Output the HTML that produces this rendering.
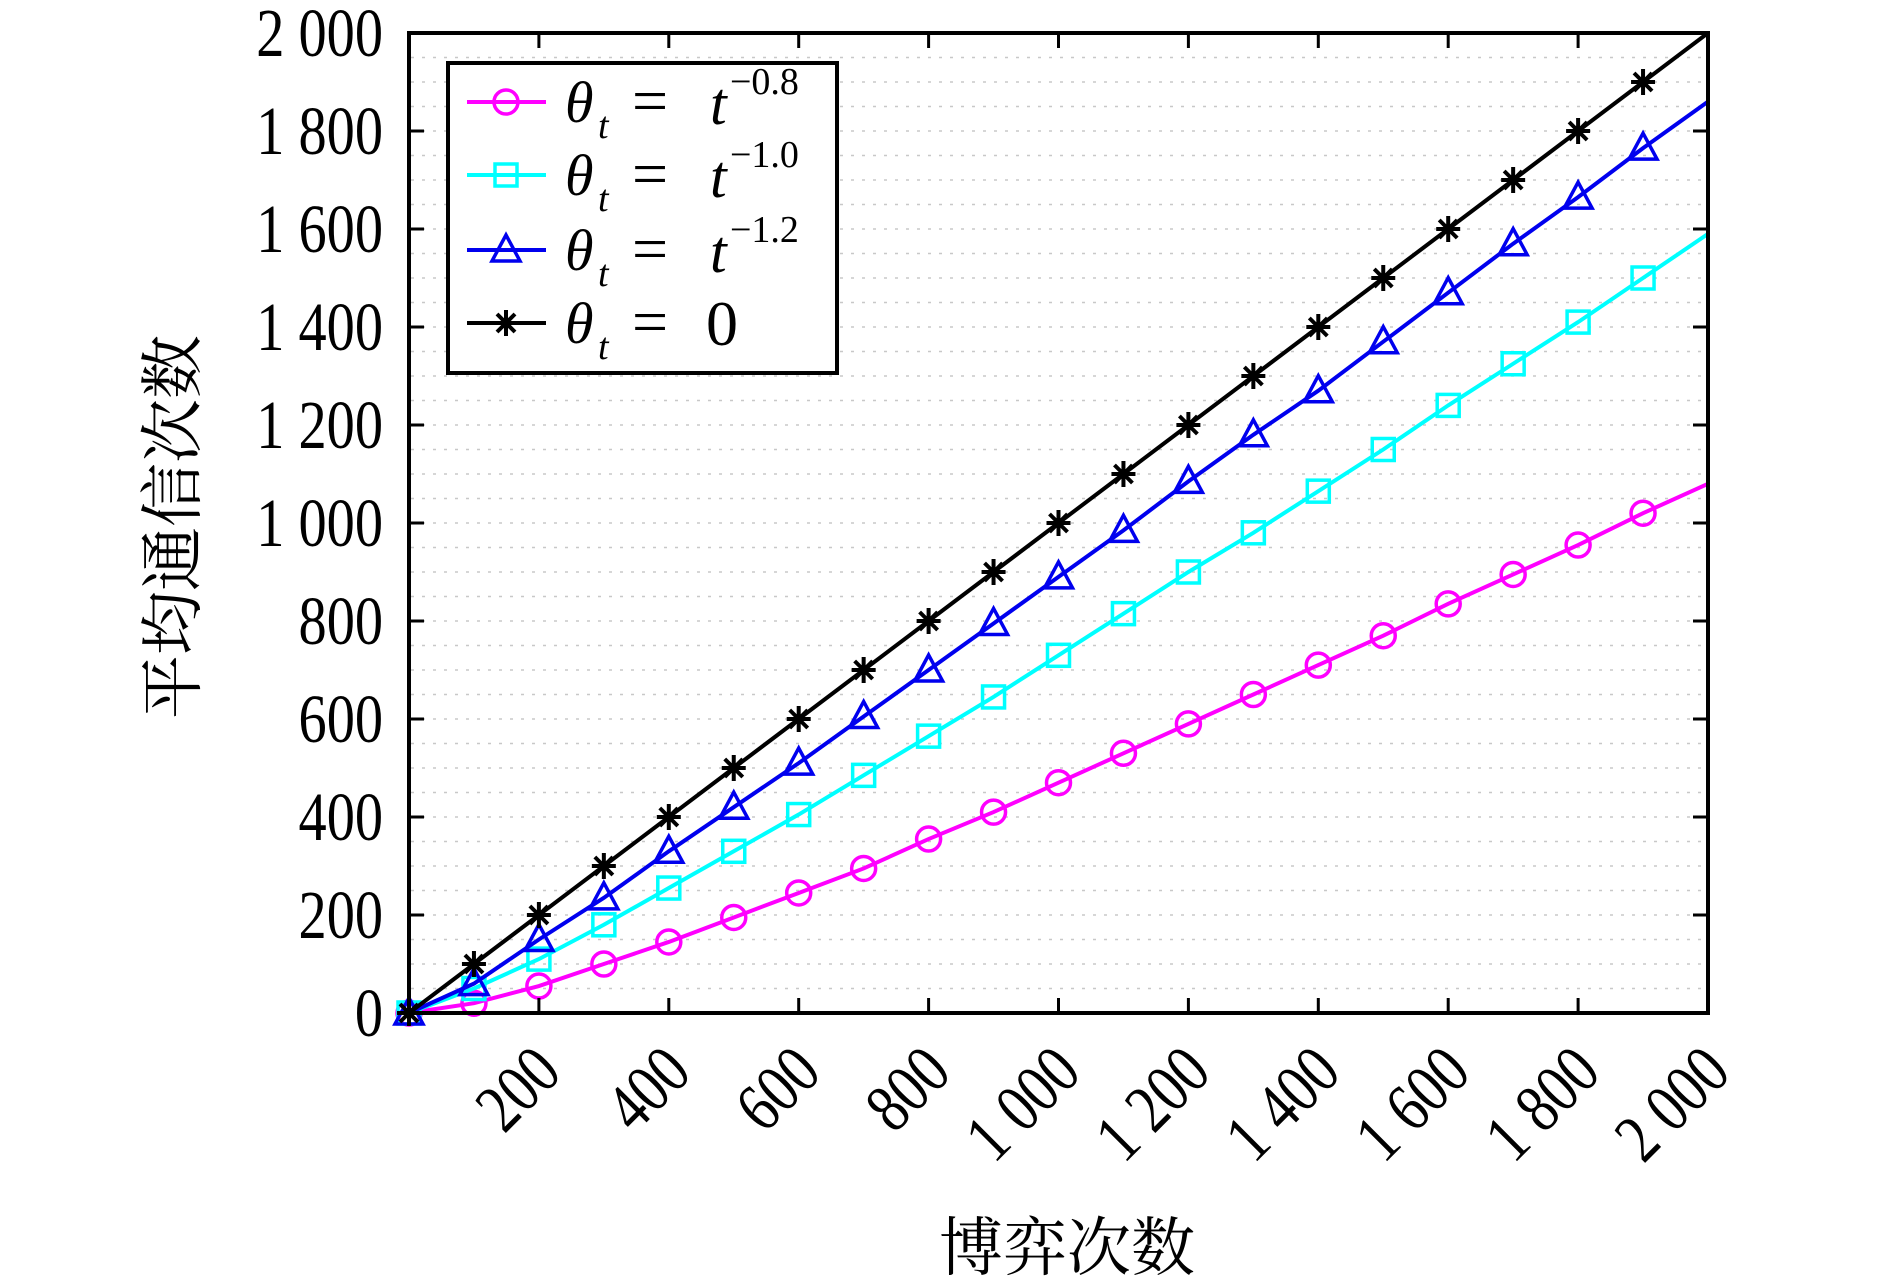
<!DOCTYPE html>
<html><head><meta charset="utf-8"><style>body{margin:0;background:#fff}svg{display:block}</style></head>
<body>
<svg id="s" width="1890" height="1281" xmlns="http://www.w3.org/2000/svg" font-family="Liberation Serif, serif">
<g id="grid" stroke="#c8c8c8" stroke-width="1.5" stroke-dasharray="3,8"></g>
<g id="series"></g>
<rect x="409" y="33" width="1299" height="980" fill="none" stroke="#000" stroke-width="4"/>
<g id="ticks" stroke="#000" stroke-width="3"></g>
<g id="labels" font-size="64" fill="#000"></g>
<rect x="448" y="63" width="389" height="310" fill="#fff" stroke="#000" stroke-width="4"/>
<g id="legend"></g>
<text x="1067" y="1270" font-size="64" text-anchor="middle" font-family="Liberation Serif, 'Noto Serif CJK SC', serif">博弈次数</text>
<text transform="translate(195,527) rotate(-90)" font-size="64" text-anchor="middle" font-family="Liberation Serif, 'Noto Serif CJK SC', serif">平均通信次数</text>
</svg>
<script>
const NS="http://www.w3.org/2000/svg";
const X=v=>409+v*0.6495, Y=v=>1013-v*0.49;
function el(p,t,a,txt){const e=document.createElementNS(NS,t);for(const k in a)e.setAttribute(k,a[k]);if(txt!==undefined)e.textContent=txt;document.getElementById(p).appendChild(e);return e;}
for(let v=50;v<2000;v+=50){el('grid','line',{x1:411,x2:1706,y1:Y(v),y2:Y(v)});}
const fmt=v=>v>=1000?Math.floor(v/1000)+" "+String(v%1000).padStart(3,'0'):String(v);
for(let v=200;v<2000;v+=200){
 el('ticks','line',{x1:409,x2:424,y1:Y(v),y2:Y(v)});
 el('ticks','line',{x1:1708,x2:1693,y1:Y(v),y2:Y(v)});
 el('ticks','line',{x1:X(v),x2:X(v),y1:1013,y2:998});
 el('ticks','line',{x1:X(v),x2:X(v),y1:33,y2:48});
}
for(let v=0;v<=2000;v+=200){
 el('labels','text',{'text-anchor':'end',transform:`translate(383,${Y(v)+23}) scale(0.88,1.08)`},fmt(v));
 if(v>0){el('labels','text',{'text-anchor':'end',transform:`translate(${X(v)+25},${1075}) rotate(-45) scale(0.88,1.08)`},fmt(v));}
}
const xs=[];for(let i=0;i<=20;i++)xs.push(i*100);
const S=[
 {c:'#ff00ff',m:'o',y:[0,20,55,100,145,195,245,295,355,410,470,530,590,650,710,770,835,895,955,1020,1080]},
 {c:'#00ffff',m:'s',y:[0,50,110,180,255,330,405,485,565,645,730,815,900,980,1065,1150,1240,1325,1410,1500,1590]},
 {c:'#0000ee',m:'t',y:[0,60,150,235,330,420,510,605,700,795,890,985,1085,1180,1270,1370,1470,1570,1665,1765,1860]},
 {c:'#000',m:'*',y:xs.map(x=>x)}
];
function marker(g,m,cx,cy,c){
 if(m=='o')el(g,'circle',{cx,cy,r:12,fill:'none',stroke:c,'stroke-width':3.5});
 else if(m=='s')el(g,'rect',{x:cx-11,y:cy-11,width:22,height:22,fill:'none',stroke:c,'stroke-width':3.5});
 else if(m=='t')el(g,'path',{d:`M${cx},${cy-15}L${cx+14},${cy+11}L${cx-14},${cy+11}Z`,fill:'none',stroke:c,'stroke-width':3.5});
 else el(g,'path',{d:`M${cx-12},${cy}H${cx+12}M${cx},${cy-13}V${cy+13}M${cx-9},${cy-9}L${cx+9},${cy+9}M${cx-9},${cy+9}L${cx+9},${cy-9}`,stroke:c,'stroke-width':4});
}
S.forEach(s=>{
 el('series','polyline',{points:xs.map((x,i)=>X(x)+','+Y(s.y[i])).join(' '),fill:'none',stroke:s.c,'stroke-width':4});
 for(let i=0;i<20;i++)marker('series',s.m,X(xs[i]),Y(s.y[i]),s.c);
});
const rows=[102,175,250,323],sup=['\u22120.8','\u22121.0','\u22121.2',null];
S.forEach((s,i)=>{
 const y=rows[i];
 el('legend','line',{x1:467,x2:546,y1:y,y2:y,stroke:s.c,'stroke-width':4});
 marker('legend',s.m,506,y,s.c);
 el('legend','text',{x:565,y:y+20,'font-size':58,'font-style':'italic'},'θ');
 el('legend','text',{x:598,y:y+36,'font-size':38,'font-style':'italic'},'t');
 el('legend','text',{x:632,y:y+20,'font-size':64},'=');
 if(sup[i]){el('legend','text',{x:710,y:y+22,'font-size':60,'font-style':'italic'},'t');
  el('legend','text',{x:730,y:y-8,'font-size':38},sup[i]);}
 else el('legend','text',{x:706,y:y+22,'font-size':64},'0');
});
</script>
</body></html>
